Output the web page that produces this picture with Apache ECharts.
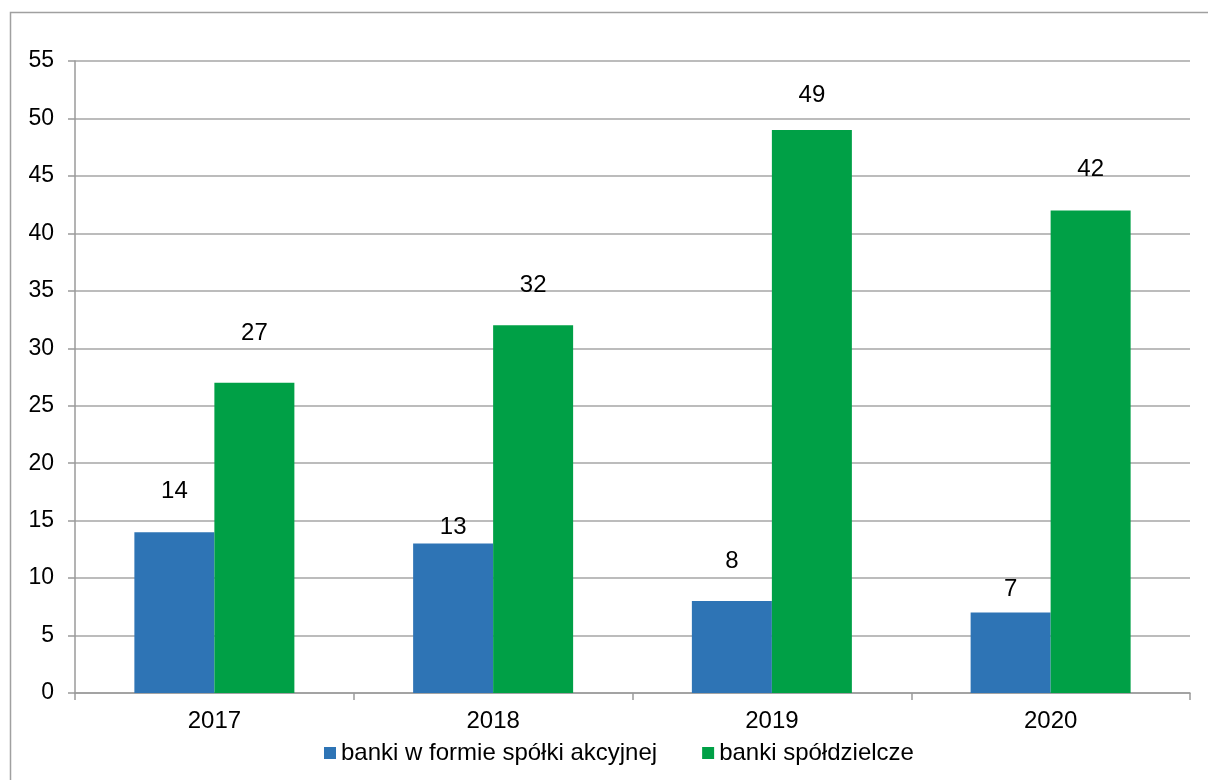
<!DOCTYPE html>
<html>
<head>
<meta charset="utf-8">
<script src="https://cdn.jsdelivr.net/npm/echarts@6/dist/echarts.min.js"></script>
<style>
  html, body { margin: 0; padding: 0; background: #fff; }
  #chart { width: 1208px; height: 780px; }
</style>
</head>
<body>
<div id="chart"></div>
<script>
const years = ['2017', '2018', '2019', '2020'];
const seriesNames = ['banki w formie spółki akcyjnej', 'banki spółdzielcze'];
const jointStock = [14, 13, 8, 7];
const cooperative = [27, 32, 49, 42];
const yTicks = { min: 0, max: 55, step: 5 };
const colors = ['#2E74B5', '#00A046'];

// gap (px) between each bar's top and its value label
const liftJointStock = [29, 4, 28, 11];
const liftCooperative = [37, 28, 23, 29];

const font = '"Liberation Sans", Arial, sans-serif';
const chart = echarts.init(document.getElementById('chart'));

function withLabels(values, lifts) {
  return values.map((v, i) => ({
    value: v,
    label: {
      show: true,
      position: 'top',
      distance: lifts[i],
      color: '#000',
      fontSize: 24,
      fontFamily: font
    }
  }));
}

chart.setOption({
  animation: false,
  backgroundColor: '#fff',
  graphic: [{
    type: 'rect',
    shape: { x: 10.5, y: 12.5, width: 1300, height: 900 },
    style: { fill: 'none', stroke: '#a0a0a0', lineWidth: 1.5 },
    silent: true
  }],
  grid: { left: 75, right: 18, top: 61, bottom: 87 },
  legend: {
    top: 736,
    left: 319,
    itemWidth: 12,
    itemHeight: 12,
    itemGap: 45,
    icon: 'rect',
    textStyle: { fontSize: 24, color: '#000', fontFamily: font },
    data: seriesNames
  },
  xAxis: {
    type: 'category',
    data: years,
    axisLine: { lineStyle: { color: '#9a9a9a', width: 1.5 } },
    axisTick: { show: true, length: 7, inside: false, lineStyle: { color: '#9a9a9a', width: 1.5 } },
    axisLabel: { color: '#000', fontSize: 24, fontFamily: font, margin: 16 }
  },
  yAxis: {
    type: 'value',
    min: yTicks.min,
    max: yTicks.max,
    interval: yTicks.step,
    axisLine: { show: true, lineStyle: { color: '#9a9a9a', width: 1.5 } },
    axisTick: { show: true, length: 7, lineStyle: { color: '#9a9a9a', width: 1.5 } },
    axisLabel: { color: '#000', fontSize: 23, fontFamily: font, margin: 21 },
    splitLine: { show: true, lineStyle: { color: '#a6a6a6', width: 1.5 } }
  },
  series: [
    {
      name: seriesNames[0],
      type: 'bar',
      data: withLabels(jointStock, liftJointStock),
      barWidth: 80,
      barGap: '0%',
      itemStyle: { color: colors[0] }
    },
    {
      name: seriesNames[1],
      type: 'bar',
      data: withLabels(cooperative, liftCooperative),
      barWidth: 80,
      barGap: '0%',
      itemStyle: { color: colors[1] }
    }
  ]
});
</script>
</body>
</html>
